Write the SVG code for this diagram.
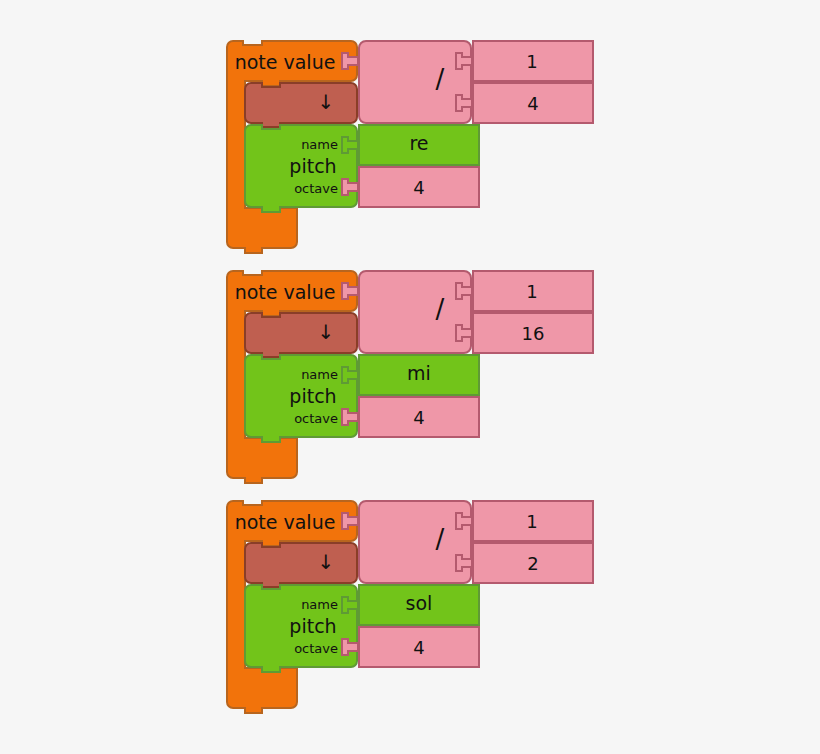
<svg xmlns="http://www.w3.org/2000/svg" width="820" height="754" viewBox="0 0 820 754">
<style>
.t{font-family:"DejaVu Sans",sans-serif;fill:#111;text-anchor:middle}
.or{fill:#f2730b;stroke:#b8651e;stroke-width:2}
.br{fill:#bf5f50;stroke:#8a3e28;stroke-width:2}
.gr{fill:#72c41a;stroke:#5f9a35;stroke-width:2}
.pk{fill:#ef97a8;stroke:#b45a6e;stroke-width:2}
.sk{fill:#ef97a8;stroke:#b45a6e;stroke-width:2}
.sg{fill:#72c41a;stroke:#5f9a35;stroke-width:2}
</style>
<defs>
<path id="sock" d="M0,-8 h6 v4 h10 v8 h-10 v4 h-6 z"/>
<g id="blk">
<path class="or" d="M233,41 h10 v4 h19 v-4 h89 a6,6 0 0 1 6,6 v28 a6,6 0 0 1 -6,6 h-71 v5 h-18 v-5 h-17 v127 h52 v34 a6,6 0 0 1 -6,6 h-29 v5 h-17 v-5 h-12 a6,6 0 0 1 -6,-6 v-195 a6,6 0 0 1 6,-6 z"/>
<path class="br" d="M251,83 h11 v4 h18 v-4 h71 a6,6 0 0 1 6,6 v28 a6,6 0 0 1 -6,6 h-71 v4 h-18 v-4 h-11 a6,6 0 0 1 -6,-6 v-28 a6,6 0 0 1 6,-6 z"/>
<path class="gr" d="M251,125 h11 v4 h18 v-4 h71 a6,6 0 0 1 6,6 v70 a6,6 0 0 1 -6,6 h-71 v5 h-18 v-5 h-11 a6,6 0 0 1 -6,-6 v-70 a6,6 0 0 1 6,-6 z"/>
<rect class="pk" x="359" y="41" width="112" height="82" rx="7"/>
<rect class="pk" x="473" y="41" width="120" height="40"/>
<rect class="pk" x="473" y="83" width="120" height="40"/>
<rect class="gr" x="359" y="125" width="120" height="40"/>
<rect class="pk" x="359" y="167" width="120" height="40"/>
<use href="#sock" class="sk" x="342" y="61"/>
<use href="#sock" class="sk" x="456" y="61"/>
<use href="#sock" class="sk" x="456" y="103"/>
<use href="#sock" class="sg" x="342" y="145"/>
<use href="#sock" class="sk" x="342" y="187"/>
<text class="t" x="285" y="69" font-size="19">note value</text>
<text class="t" x="326" y="109" font-size="20">↓</text>
<text class="t" x="440" y="88" font-size="26">/</text>
<text class="t" x="338" y="149" font-size="13" style="text-anchor:end">name</text>
<text class="t" x="313" y="173" font-size="19">pitch</text>
<text class="t" x="338" y="193" font-size="13" style="text-anchor:end">octave</text>
<text class="t" x="419" y="194" font-size="18">4</text>
</g>
</defs>
<rect width="820" height="754" fill="#f6f6f6"/>
<g id="block1">
<use href="#blk"/>
<text class="t" x="532" y="68" font-size="18">1</text>
<text class="t" x="533" y="110" font-size="18">4</text>
<text class="t" x="419" y="150" font-size="19">re</text>
</g>
<g id="block2" transform="translate(0,230)">
<use href="#blk"/>
<text class="t" x="532" y="68" font-size="18">1</text>
<text class="t" x="533" y="110" font-size="18">16</text>
<text class="t" x="419" y="150" font-size="19">mi</text>
</g>
<g id="block3" transform="translate(0,460)">
<use href="#blk"/>
<text class="t" x="532" y="68" font-size="18">1</text>
<text class="t" x="533" y="110" font-size="18">2</text>
<text class="t" x="419" y="150" font-size="19">sol</text>
</g>
<g id="connectors"/>
</svg>
